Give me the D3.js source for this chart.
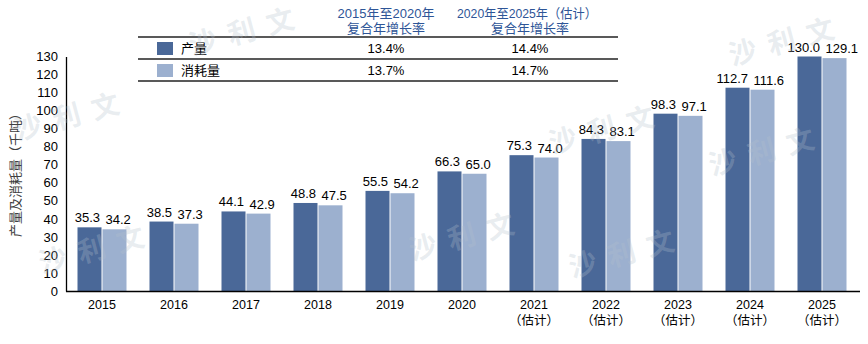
<!DOCTYPE html>
<html><head><meta charset="utf-8">
<script src="https://cdn.jsdelivr.net/npm/d3@7"></script>
<style>
body{margin:0;background:#fff;}
svg{font-family:"Liberation Sans","Noto Sans CJK SC",Arial,sans-serif;}
</style></head>
<body><svg id="c" width="868" height="344"></svg>
<script>
const years = ["2015","2016","2017","2018","2019","2020","2021","2022","2023","2024","2025"];
const estimated = [false,false,false,false,false,false,true,true,true,true,true];
const production = [35.3,38.5,44.1,48.8,55.5,66.3,75.3,84.3,98.3,112.7,130.0];
const consumption = [34.2,37.3,42.9,47.5,54.2,65.0,74.0,83.1,97.1,111.6,129.1];
const seriesNames = ["产量","消耗量"];
const cagr1 = ["13.4%","13.7%"];
const cagr2 = ["14.4%","14.7%"];
const yTicks = d3.range(0,131,10);

const colors = ["#4a6898","#9cb0cf"];
const svg = d3.select("#c");

const x0 = d3.scaleBand().domain(years).range([66,858]).paddingInner(0).paddingOuter(0);
const y = d3.scaleLinear().domain([0,130]).range([291,56.5]);
const barW = 24;

const g = svg.append("g");
years.forEach((yr,i)=>{
  const cx = x0(yr)+x0.bandwidth()/2;
  [production[i],consumption[i]].forEach((v,j)=>{
    const bx = j===0 ? cx-barW-0.5 : cx+0.5;
    g.append("rect").attr("x",bx).attr("y",y(v)).attr("width",barW).attr("height",y(0)-y(v)).attr("fill",colors[j]);
    g.append("text").attr("x",j===0 ? cx-2 : cx+3.5).attr("y",y(v)-5)
      .attr("text-anchor",j===0 ? "end" : "start")
      .attr("font-size",13).attr("fill","#000").text(v.toFixed(1));
  });
  g.append("text").attr("x",cx).attr("y",309).attr("text-anchor","middle").attr("font-size",12.5).attr("fill","#000").text(yr);
  if(estimated[i]) g.append("text").attr("x",cx).attr("y",325).attr("text-anchor","middle").attr("font-size",12.5).attr("fill","#000").text("（估计）");
});

// y axis
const yAxis = d3.axisLeft(y).tickValues(yTicks).tickSize(0).tickPadding(8);
const ya = svg.append("g").attr("transform","translate(66,0)").call(yAxis);
ya.select(".domain").attr("stroke","#000").attr("stroke-width",1.3);
ya.selectAll("text").attr("font-size",13).attr("fill","#000").attr("font-family","Liberation Sans, Arial, sans-serif");
// x axis line
svg.append("line").attr("x1",66).attr("x2",860).attr("y1",291.5).attr("y2",291.5).attr("stroke","#000").attr("stroke-width",1.3);

// y label
svg.append("text").attr("transform","translate(20,172) rotate(-90)").attr("text-anchor","middle")
  .attr("font-size",13).attr("fill","#404040").text("产量及消耗量（千吨）");

// table
const tbl = svg.append("g");
const col1 = 386, col2 = 530;
const hdrColor = "#2e5597";
tbl.append("text").attr("x",col1).attr("y",18).attr("text-anchor","middle").attr("font-size",13).attr("fill",hdrColor).text("2015年至2020年");
tbl.append("text").attr("x",col1).attr("y",33).attr("text-anchor","middle").attr("font-size",13).attr("fill",hdrColor).text("复合年增长率");
tbl.append("text").attr("x",col2-3).attr("y",18).attr("text-anchor","middle").attr("font-size",13).attr("fill",hdrColor)
  .attr("textLength",140).attr("lengthAdjust","spacingAndGlyphs").text("2020年至2025年（估计）");
tbl.append("text").attr("x",col2).attr("y",33).attr("text-anchor","middle").attr("font-size",13).attr("fill",hdrColor).text("复合年增长率");
[37,59,81].forEach(ly=>{
  tbl.append("line").attr("x1",138).attr("x2",618).attr("y1",ly).attr("y2",ly).attr("stroke","#222").attr("stroke-width",1.4);
});
seriesNames.forEach((n,i)=>{
  const ry = 48 + i*22;
  tbl.append("rect").attr("x",157).attr("y",ry-6).attr("width",16).attr("height",13).attr("fill",colors[i]);
  tbl.append("text").attr("x",181).attr("y",ry+5).attr("font-size",13).attr("fill","#000").text(n);
  tbl.append("text").attr("x",col1).attr("y",ry+5).attr("text-anchor","middle").attr("font-size",13).attr("fill","#000").text(cagr1[i]);
  tbl.append("text").attr("x",col2).attr("y",ry+5).attr("text-anchor","middle").attr("font-size",13).attr("fill","#000").text(cagr2[i]);
});

// watermarks (semi-transparent overlay)
const wm = [[75,125],[100,258],[250,40],[470,245],[610,138],[630,262],[790,50],[770,160]];
wm.forEach(([x,y])=>{
  svg.append("text").attr("x",x).attr("y",y).attr("transform",`rotate(-15,${x},${y})`)
    .attr("text-anchor","middle").attr("font-size",28).attr("font-weight","bold")
    .attr("fill","#b4bfcd").attr("fill-opacity",0.3).attr("letter-spacing",12).text("沙利文");
});
</script></body></html>
